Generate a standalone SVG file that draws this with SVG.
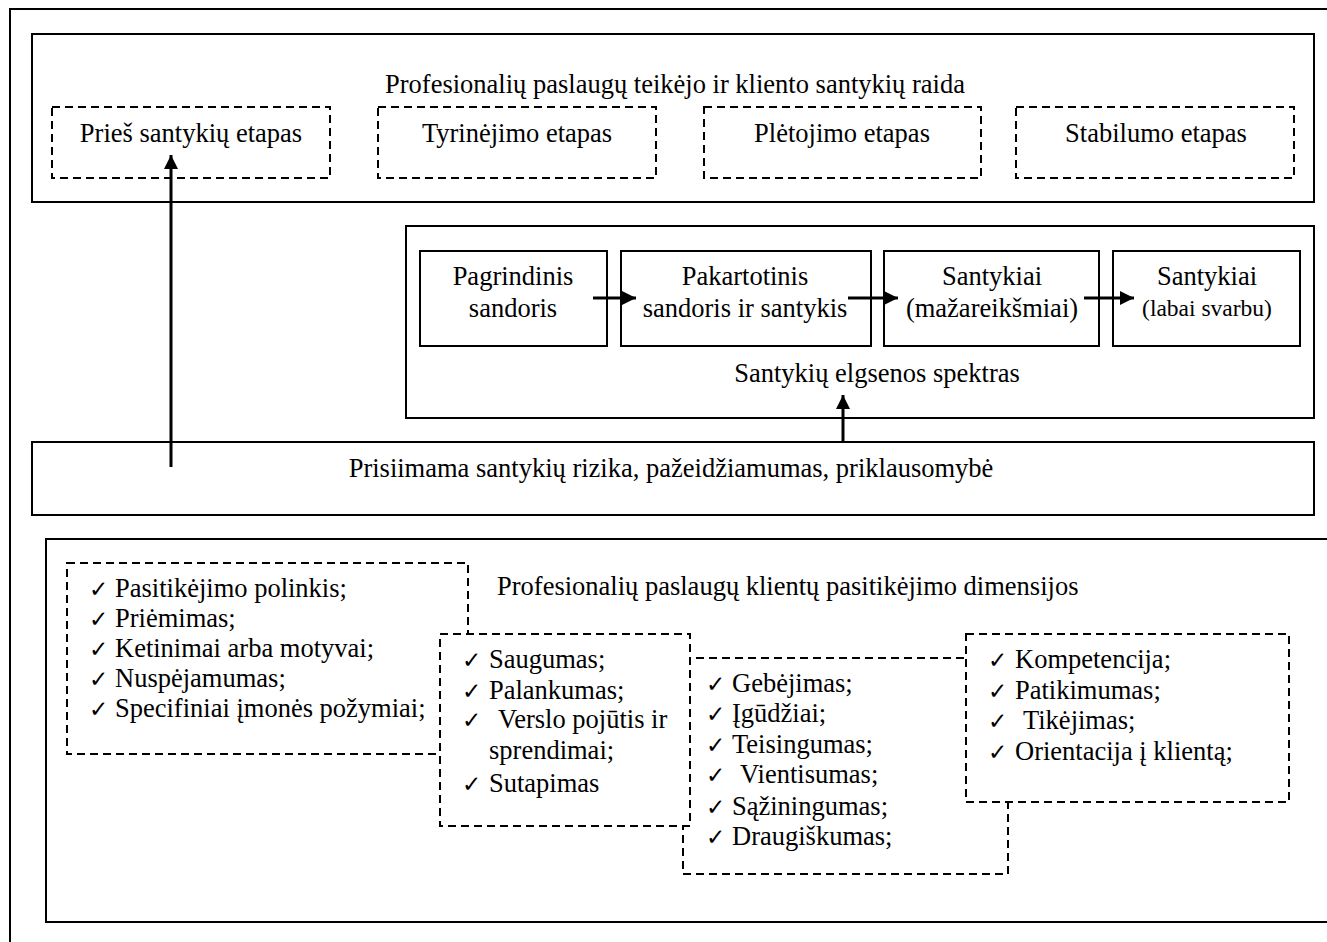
<svg xmlns="http://www.w3.org/2000/svg" width="1327" height="942" viewBox="0 0 1327 942">
  <style>
    .frame { fill: none; stroke: #000; stroke-width: 2; }
    .box { fill: #fff; stroke: #000; stroke-width: 2; }
    .dash { fill: #fff; stroke: #000; stroke-width: 2; stroke-dasharray: 8 5; }
    .t { font-family: "Liberation Serif", "Times New Roman", "DejaVu Serif", serif; font-size: 26.5px; fill: #000; }
    .c { text-anchor: middle; }
    .small { font-size: 23.5px; }
    .chk { font-family: "DejaVu Sans", sans-serif; font-size: 23px; fill: #000; }
    .conn { stroke: #000; stroke-width: 3; fill: none; marker-end: url(#head); }
  </style>
  <defs>
    <marker id="head" viewBox="0 0 10 10" refX="10" refY="5" markerWidth="17" markerHeight="14" markerUnits="userSpaceOnUse" orient="auto">
      <path d="M0,0 L10,5 L0,10 Z" fill="#000"/>
    </marker>
  </defs>

  <rect fill="#fff" x="0" y="0" width="1327" height="942"/>

  <!-- outer frame, running past the right and bottom edges -->
  <rect class="frame" x="10" y="9" width="1340" height="960"/>

  <!-- relationship development stages -->
  <g id="stages">
    <rect class="box" x="32" y="34" width="1282" height="168"/>
    <text class="t c" x="675" y="93">Profesionalių paslaugų teikėjo ir kliento santykių raida</text>
  </g>
  <g id="stage-pre">
    <rect class="dash" x="52" y="107" width="278" height="71"/>
    <text class="t c" x="191" y="142">Prieš santykių etapas</text>
  </g>
  <g id="stage-explore">
    <rect class="dash" x="378" y="107" width="278" height="71"/>
    <text class="t c" x="517" y="142">Tyrinėjimo etapas</text>
  </g>
  <g id="stage-develop">
    <rect class="dash" x="704" y="107" width="277" height="71"/>
    <text class="t c" x="842" y="142">Plėtojimo etapas</text>
  </g>
  <g id="stage-stable">
    <rect class="dash" x="1016" y="107" width="278" height="71"/>
    <text class="t c" x="1156" y="142">Stabilumo etapas</text>
  </g>

  <!-- behaviour spectrum -->
  <g id="spectrum">
    <rect class="box" x="406" y="226" width="908" height="192"/>
    <text class="t c" x="877" y="382">Santykių elgsenos spektras</text>
  </g>
  <g id="basic-deal">
    <rect class="box" x="420" y="251" width="187" height="95"/>
    <text class="t c" x="513" y="285">Pagrindinis</text>
    <text class="t c" x="513" y="317">sandoris</text>
  </g>
  <g id="repeat-deal">
    <rect class="box" x="621" y="251" width="250" height="95"/>
    <text class="t c" x="745" y="285">Pakartotinis</text>
    <text class="t c" x="745" y="317">sandoris ir santykis</text>
  </g>
  <g id="minor-rel">
    <rect class="box" x="884" y="251" width="215" height="95"/>
    <text class="t c" x="992" y="285">Santykiai</text>
    <text class="t c" x="992" y="317">(mažareikšmiai)</text>
  </g>
  <g id="major-rel">
    <rect class="box" x="1113" y="251" width="187" height="95"/>
    <text class="t c" x="1207" y="285">Santykiai</text>
    <text class="t c small" x="1207" y="316">(labai svarbu)</text>
  </g>

  <!-- risk bar -->
  <g id="risk">
    <rect class="box" x="32" y="442" width="1282" height="73"/>
    <text class="t c" x="671" y="477">Prisiimama santykių rizika, pažeidžiamumas, priklausomybė</text>
  </g>

  <!-- trust dimensions panel -->
  <g id="trust">
    <rect class="frame" x="46" y="539" width="1300" height="383"/>
    <text class="t" x="497" y="595">Profesionalių paslaugų klientų pasitikėjimo dimensijos</text>
  </g>

  <g id="trust-a">
    <rect class="dash" x="67" y="563" width="401" height="191"/>
    <text class="chk" x="89" y="597">✓</text><text class="t" x="115" y="597">Pasitikėjimo polinkis;</text>
    <text class="chk" x="89" y="627">✓</text><text class="t" x="115" y="627">Priėmimas;</text>
    <text class="chk" x="89" y="657">✓</text><text class="t" x="115" y="657">Ketinimai arba motyvai;</text>
    <text class="chk" x="89" y="687">✓</text><text class="t" x="115" y="687">Nuspėjamumas;</text>
    <text class="chk" x="89" y="717">✓</text><text class="t" x="115" y="717">Specifiniai įmonės požymiai;</text>
  </g>

  <g id="trust-c">
    <rect class="dash" x="683" y="658" width="325" height="216"/>
    <text class="chk" x="706" y="692">✓</text><text class="t" x="732" y="692">Gebėjimas;</text>
    <text class="chk" x="706" y="722">✓</text><text class="t" x="732" y="722">Įgūdžiai;</text>
    <text class="chk" x="706" y="753">✓</text><text class="t" x="732" y="753">Teisingumas;</text>
    <text class="chk" x="706" y="783">✓</text><text class="t" x="740" y="783">Vientisumas;</text>
    <text class="chk" x="706" y="815">✓</text><text class="t" x="732" y="815">Sąžiningumas;</text>
    <text class="chk" x="706" y="845">✓</text><text class="t" x="732" y="845">Draugiškumas;</text>
  </g>

  <g id="trust-b">
    <rect class="dash" x="440" y="634" width="250" height="192"/>
    <text class="chk" x="462" y="668">✓</text><text class="t" x="489" y="668">Saugumas;</text>
    <text class="chk" x="462" y="699">✓</text><text class="t" x="489" y="699">Palankumas;</text>
    <text class="chk" x="462" y="728">✓</text><text class="t" x="498" y="728">Verslo pojūtis ir</text>
    <text class="t" x="489" y="759">sprendimai;</text>
    <text class="chk" x="462" y="792">✓</text><text class="t" x="489" y="792">Sutapimas</text>
  </g>

  <g id="trust-d">
    <rect class="dash" x="966" y="634" width="323" height="168"/>
    <text class="chk" x="988" y="668">✓</text><text class="t" x="1015" y="668">Kompetencija;</text>
    <text class="chk" x="988" y="699">✓</text><text class="t" x="1015" y="699">Patikimumas;</text>
    <text class="chk" x="988" y="729">✓</text><text class="t" x="1023" y="729">Tikėjimas;</text>
    <text class="chk" x="988" y="760">✓</text><text class="t" x="1015" y="760">Orientacija į klientą;</text>
  </g>

  <!-- connectors -->
  <g id="connectors">
    <line class="conn" x1="171" y1="467" x2="171" y2="155"/>
    <line class="conn" x1="843" y1="443" x2="843" y2="395"/>
    <line class="conn" x1="593" y1="298" x2="636" y2="298"/>
    <line class="conn" x1="848" y1="298" x2="898" y2="298"/>
    <line class="conn" x1="1084" y1="298" x2="1134" y2="298"/>
  </g>
</svg>
